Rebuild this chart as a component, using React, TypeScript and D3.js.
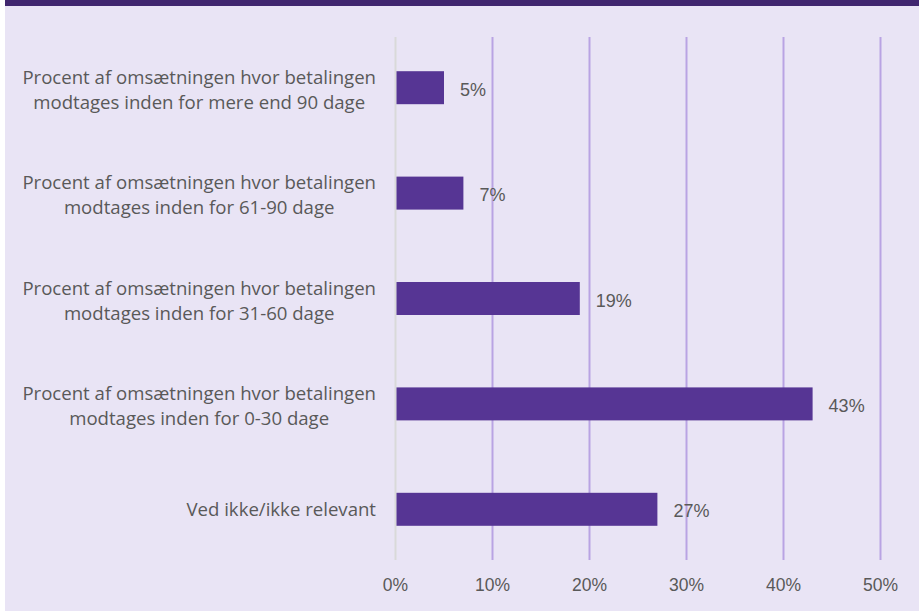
import React from "react";
import * as d3 from "d3";

const categories: string[][] = [
  ["Procent af omsætningen hvor betalingen", "modtages inden for mere end 90 dage"],
  ["Procent af omsætningen hvor betalingen", "modtages inden for 61-90 dage"],
  ["Procent af omsætningen hvor betalingen", "modtages inden for 31-60 dage"],
  ["Procent af omsætningen hvor betalingen", "modtages inden for 0-30 dage"],
  ["Ved ikke/ikke relevant"],
];
const values: number[] = [5, 7, 19, 43, 27];
const ticks: number[] = [0, 10, 20, 30, 40, 50];

const W = 919;
const H = 612;
const LABEL_FONT = "18.6px 'Open Sans', sans-serif";

function measure(text: string): number {
  if (typeof document === "undefined") return text.length * 9;
  const c = document.createElement("canvas");
  const ctx = c.getContext("2d");
  if (!ctx) return text.length * 9;
  ctx.font = LABEL_FONT;
  return ctx.measureText(text).width;
}

export default function App() {
  const x = d3.scaleLinear().domain([0, 50]).range([395.5, 880.5]);
  const y = d3
    .scaleBand<number>()
    .domain(d3.range(values.length))
    .range([35, 562])
    .paddingInner(0.687)
    .paddingOuter(0.3435);
  const textColor = "#595959";
  const labelRight = 376;
  return (
    <svg
      width={W}
      height={H}
      style={{ position: "fixed", left: 0, top: 0, display: "block" }}
    >
      <rect x={0} y={0} width={W} height={H} fill="#ffffff" />
      <rect x={5} y={0} width={W - 5} height={H - 1} fill="#E9E4F5" />
      <rect x={5} y={0} width={W - 5} height={6} fill="#40266F" />
      {ticks.map((t) => (
        <line
          key={t}
          x1={x(t)}
          x2={x(t)}
          y1={37}
          y2={560}
          stroke={t === 0 ? "#D9D9D9" : "#B9A3E3"}
          strokeWidth={2}
        />
      ))}
      {values.map((v, i) => {
        const y0 = y(i)!;
        const bw = y.bandwidth();
        const cy = y0 + bw / 2;
        const lines = categories[i];
        const maxW = Math.max(...lines.map(measure));
        const cx = labelRight - maxW / 2;
        return (
          <g key={i}>
            <rect x={x(0) + 1} y={y0} width={x(v) - x(0) - 1} height={bw} fill="#563594" />
            <text
              x={x(v) + 16}
              y={cy + 8}
              fontFamily="'Liberation Sans', Arial, sans-serif"
              fontSize={18}
              fill={textColor}
            >
              {v}%
            </text>
            {lines.map((l, j) => (
              <text
                key={j}
                x={cx}
                y={lines.length === 1 ? cy + 7 : cy - 4 + j * 25}
                textAnchor="middle"
                fontFamily="'Open Sans', sans-serif"
                fontSize={18.6}
                fill={textColor}
              >
                {l}
              </text>
            ))}
          </g>
        );
      })}
      {ticks.map((t) => (
        <text
          key={t}
          x={x(t)}
          y={591}
          textAnchor="middle"
          fontFamily="'Liberation Sans', Arial, sans-serif"
          fontSize={17.5}
          fill={textColor}
        >
          {t}%
        </text>
      ))}
    </svg>
  );
}
